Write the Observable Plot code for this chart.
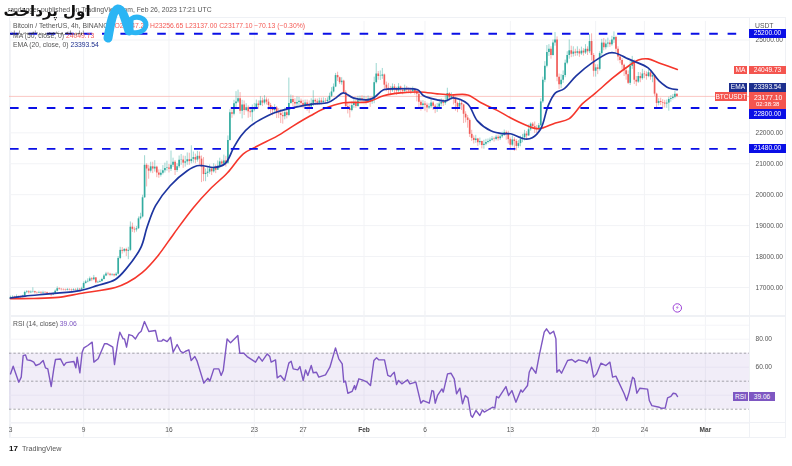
<!DOCTYPE html>
<html><head><meta charset="utf-8">
<script src="https://cdn.jsdelivr.net/npm/d3@7"></script>
<script src="https://cdn.jsdelivr.net/npm/@observablehq/plot@0.6"></script>
<style>
html,body{margin:0;padding:0;background:#fff}
#page{position:relative;width:792px;height:466px;overflow:hidden;font-family:"Liberation Sans",sans-serif;color:#555;filter:blur(.4px)}
#page svg{display:block}
.pane{position:absolute;left:0}
.t{position:absolute;white-space:nowrap;font-size:6.8px;line-height:9px}
.tag{position:absolute;color:#fff;font-size:6.6px;line-height:9px;text-align:center;white-space:nowrap}
</style></head><body><div id="page"></div>
<script>
const startClose = 16625;
const closes = [
16680,16690,16670,16700,16690,16680,
16720,16840,16860,16830,16850,16860,
16830,16820,16840,16820,16840,16830,
16800,16780,16760,16800,16880,16960,
16940,16930,16920,16910,16930,16920,
16910,16930,16920,16940,16930,16960,
17130,17180,17200,17280,17250,17310,
17150,17170,17190,17260,17370,17440,
17430,17400,17410,17380,17430,17940,
18200,18170,18230,18170,18200,18950,
18880,18860,18900,19220,19280,19900,
20950,20830,20760,20900,20830,20890,
20700,20630,20690,20770,20850,20860,
20820,20950,21050,20780,20900,21110,
21120,21020,21060,21130,21070,21140,
21200,21120,21240,21150,20900,20650,
20690,20730,20830,20740,20860,20790,
20920,21060,20990,21090,21020,21750,
22650,22600,22940,23000,23100,22700,
22900,22720,22810,22680,22650,22740,
22820,22930,22880,23030,22960,23060,
22990,22880,22760,22720,22800,22640,
22620,22560,22520,22650,22560,22950,
23080,22980,22930,22980,23020,22950,
22880,22960,22900,22840,22950,23050,
23000,22960,23030,22980,23020,23010,
23050,23180,23320,23480,23850,23780,
23620,23670,23300,22850,22780,22720,
22880,22950,22850,23040,23100,23060,
23080,23020,23090,23000,23060,23620,
23900,23820,23830,23870,23540,23440,
23390,23360,23480,23400,23350,23480,
23380,23340,23420,23380,23350,23330,
23390,23320,23250,22990,22880,22930,
22890,22800,22840,22960,22860,22780,
22830,22930,22980,22950,23030,23270,
23130,23170,23100,22950,22830,22950,
22900,22600,22480,22400,21950,21820,
21750,21800,21680,21720,21590,21630,
21690,21720,21760,21800,21780,21860,
21810,21870,21930,22010,21950,21780,
21600,21770,21720,21560,21650,21780,
21840,21960,21900,22100,22280,22200,
22150,22100,22230,23000,23700,24150,
24600,24700,24500,24900,25000,23800,
23550,23700,23850,24250,24500,24650,
24540,24610,24570,24620,24550,24640,
24580,24700,24620,24950,24500,23990,
24100,24050,24560,24900,24750,24870,
24900,24850,25000,25080,24700,24450,
24340,24180,24010,23880,23600,24150,
24300,23700,23640,23820,23750,23900,
23880,23820,23940,23800,23850,23250,
22950,23010,22980,22960,22930,22960,
23080,23110,23150,23250,23177];
const highs = [
16720,16730,16720,16760,16730,16720,
16750,16880,16900,16900,16890,16990,
16880,16860,16880,16870,16880,16870,
16850,16830,16810,16840,16920,17020,
16990,16970,16960,16950,16970,16960,
16950,16960,16960,16980,16970,17010,
17180,17230,17280,17340,17320,17390,
17320,17210,17240,17300,17420,17490,
17490,17460,17450,17440,17480,18000,
18300,18290,18260,18270,18300,19120,
19080,18950,18970,19280,19400,19980,
21260,21000,20950,21050,21050,21100,
20920,20800,20800,20940,21020,21080,
20980,21410,21180,21100,21000,21250,
21300,21250,21240,21350,21340,21580,
21380,21310,21400,21380,21250,21200,
20830,20870,20960,20880,21000,20960,
21090,21180,21120,21280,21240,21900,
22750,22750,23050,23330,23380,23300,
23050,23030,22940,22870,22790,22900,
22950,23060,23030,23170,23120,23200,
23130,23090,22950,22850,22910,22850,
22780,22750,22680,22800,22720,23770,
23220,23200,23100,23160,23150,23090,
23050,23060,23060,23030,23100,23360,
23100,23090,23120,23120,23130,23110,
23130,23280,23460,23580,23920,23960,
23800,23780,23700,23360,22940,22900,
22990,23080,23060,23180,23190,23200,
23180,23160,23190,23150,23160,23800,
24240,23980,24000,24080,23900,23640,
23600,23500,23580,23560,23470,23590,
23510,23450,23540,23500,23450,23440,
23480,23440,23360,23290,23040,23040,
23010,22960,22940,23080,23010,22920,
22950,23060,23100,23080,23200,23440,
23300,23290,23230,23150,22990,23070,
23020,22920,22680,22560,22450,22080,
21900,21920,21820,21830,21730,21760,
21790,21800,21830,21880,21860,21920,
21930,21960,22020,22090,22060,22050,
21830,21900,21840,21780,21750,21890,
21950,22080,22040,22250,22320,22330,
22350,22240,22300,23100,23800,24300,
24820,24850,24780,25000,25240,25100,
23900,23880,24000,24350,24620,25000,
24800,24780,24700,24780,24700,24770,
24720,24850,24780,25170,25200,24560,
24200,24200,24620,25020,25050,25000,
25060,24980,25120,25260,25120,24780,
24530,24400,24220,24100,24000,24300,
24470,24350,23820,23950,23940,24050,
23990,23970,24060,23990,23950,23870,
23280,23100,23120,23070,23050,23060,
23150,23200,23240,23340,23260];
const lows = [
16630,16660,16640,16660,16650,16650,
16660,16710,16800,16790,16800,16820,
16790,16780,16800,16780,16790,16800,
16770,16740,16700,16740,16790,16860,
16910,16890,16890,16880,16890,16890,
16870,16890,16890,16900,16900,16900,
16950,17110,17150,17180,17190,17220,
17120,17130,17150,17170,17240,17350,
17380,17350,17360,17340,17360,17410,
17900,18080,18120,18000,17900,18160,
18780,18760,18790,18880,19180,19250,
19880,20250,20500,20700,20680,20730,
20550,20530,20570,20640,20700,20760,
20700,20750,20880,20620,20720,20850,
20950,20850,20890,20950,20950,21000,
21020,21000,21050,20950,20390,20420,
20420,20560,20660,20620,20700,20680,
20800,20840,20880,20950,20890,20980,
21730,22470,22550,22820,22950,22600,
22450,22560,22680,22470,22500,22350,
22680,22770,22760,22870,22850,22900,
22900,22730,22620,22550,22640,22460,
22460,22300,22280,22420,22450,22520,
22920,22850,22770,22840,22880,22800,
22780,22810,22700,22620,22760,22850,
22880,22890,22900,22900,22920,22930,
22950,23010,23140,23290,23460,23660,
23560,23540,23240,22780,22610,22480,
22680,22790,22790,22830,22960,22950,
22970,22900,22950,22820,22920,22940,
23580,23700,23690,23730,23400,23330,
23230,23200,23310,23240,23210,23290,
23280,23230,23280,23270,23260,23240,
23300,23220,23000,22800,22700,22790,
22700,22650,22750,22780,22720,22620,
22660,22780,22840,22850,22890,23000,
23030,23050,22900,22700,22650,22780,
22720,22300,22320,22150,21850,21720,
21640,21660,21560,21600,21480,21470,
21580,21640,21670,21730,21700,21740,
21730,21750,21820,21880,21760,21640,
21480,21550,21400,21420,21500,21550,
21680,21740,21780,21880,22050,22110,
21980,21980,22060,22200,22950,23620,
24100,24470,24380,24480,24800,23650,
23400,23430,23600,23780,24200,24380,
24430,24450,24470,24480,24440,24500,
24480,24530,24500,24560,24320,23800,
23800,23880,24000,24480,24650,24680,
24750,24760,24800,24890,24600,24320,
24230,24030,23820,23700,23560,23530,
24050,23560,23500,23600,23620,23700,
23750,23700,23780,23700,23620,23180,
22800,22870,22880,22780,22800,22790,
22700,22990,23060,23100,23137];

const emaDays = [0,1.2,3.3,5.7,7.1,8.6,9.5,10.7,11.2,11.9,13.1,14.5,15.3,15.8,16.7,17.6,18.3,18.9,19.7,21.1,21.9,23.5,24.9,26,26.7,27.3,28.1,29.3,29.8,30.6,31.7,33.4,33.9,35,35.7,36.3,37.5,38.3,39.4,40.4,41,42.2,42.8,43.5,44.1,44.7,45.4,46.4,47.7,49.1,49.6,50.5,51.1,52.3,53.2,54,54.7];
const emaValues = [16660,16720,16800,16900,17060,17260,17610,18300,18945,19645,20290,20775,20935,20935,20880,21000,21515,21900,22225,22550,22680,22840,22935,22970,23130,23290,23130,23065,23130,23390,23420,23390,23195,23065,23030,23130,22935,22385,22065,21970,21970,21800,21840,22130,22870,23290,23420,23840,24260,24580,24580,24420,24320,24100,23680,23450,23394];
const maDays = [0,1.9,3.9,5.7,8.6,9.6,10.8,12.1,13.4,15,16.4,17.8,19.1,20.3,21.9,23.2,24.6,25.7,27.3,29.3,30.6,32,33.6,35,36.1,37.5,38.6,40,41,42.2,43.3,44.7,45.8,46.9,48,49.4,50.7,51.5,52.3,53.2,54.7];
const maValues = [16640,16645,16680,16805,17000,17160,17480,18030,18740,19580,20190,20710,21320,21580,21900,22225,22550,22775,22970,23000,23195,23290,23320,23260,23225,23225,22970,22710,22485,22260,22130,22320,22450,22935,23290,23775,24160,24355,24390,24260,24050];

const rsiDays = [0,.22,.68,.88,1.04,1.23,1.37,1.64,1.91,2.08,2.41,2.68,2.87,3.06,3.34,3.55,3.69,4.1,4.38,4.57,5.2,5.36,5.47,5.69,5.88,6.02,6.34,6.7,6.84,7.19,7.71,7.93,8.26,8.39,8.53,8.8,8.97,9.24,9.35,9.52,9.71,9.98,10.25,10.53,10.72,10.99,11.35,11.89,12.09,12.39,12.52,12.85,13.13,13.34,13.67,13.95,14.16,14.36,14.63,14.82,15.12,15.31,15.86,16.19,16.35,16.68,17.09,17.28,17.45,17.77,18.05,18.65,18.81,19.14,19.41,20.1,20.37,20.65,21.06,21.27,21.38,21.74,21.88,22.15,22.48,22.83,23.02,23.19,23.57,23.74,24.01,24.2,24.39,24.67,24.83,25.1,25.29,25.84,26.2,26.66,26.93,27.21,27.34,27.48,27.67,28.03,28.22,28.3,28.58,28.85,29.26,29.53,29.81,30.03,30.22,30.68,30.95,31.17,31.34,31.48,31.67,31.83,32.1,32.57,32.76,33.25,33.66,33.86,34.35,34.57,34.7,34.84,35.03,35.39,35.5,35.85,36.13,36.4,36.59,36.86,37.08,37.3,37.52,37.77,37.9,38.18,38.5,38.72,38.86,39.54,39.73,39.87,40.04,40.64,40.86,41.13,41.46,41.87,42,42.41,42.55,42.74,43.1,43.37,43.78,43.97,44.25,44.55,44.74,44.82,45.01,45.2,45.7,46.05,46.33,46.6,47.15,47.28,47.53,47.83,48.07,48.43,48.84,49.17,49.39,49.66,50.34,50.54,50.75,51.03,51.17,51.38,51.63,52.26,52.4,52.61,53.22,53.35,53.71,53.9,54.17,54.36,54.58,54.72];
const rsiValues = [55.2,60.7,49.3,52.9,68.3,68.8,65.2,64.8,63.6,61.2,62.4,64.8,59.5,58.8,46.2,58.8,65.5,65.9,61.2,63.3,64.1,59.5,67.2,56,70.7,73.8,75.5,77.9,63.6,66,76.7,76.7,75,74.3,61.9,77.9,85,80.2,80.2,74.3,83.3,82.6,80.2,84.3,85.7,92.6,85.5,86.2,78.6,78.6,79.8,78.3,81.4,70.7,76.2,71.4,70.2,71.4,72.4,64.8,67.6,64.3,48.6,52.1,50,58.8,58.8,54.1,57.6,80.2,77.4,82.6,70,70,67.6,63.6,67.6,64.3,69.5,67.6,63.6,65.2,52.4,54.1,50.5,62.9,64.3,58.8,58.1,60.5,50.5,58.1,54.1,61.2,56,56.4,52.9,54.5,60,73.8,66,62.4,49.3,50,41.4,42.8,46.9,44.1,51.7,51,49.3,46.9,64.8,66.7,65.2,65.2,54.1,53.3,55.2,56.4,47.6,50.5,48.1,51,48.1,49.3,34.3,36.2,34.3,43.3,42.9,34.3,39.8,44.5,42.2,55.2,55.7,51.7,41,45,33.8,39.8,38.1,25.5,24.3,29.1,25.5,29.5,27.9,31.4,30.9,39.1,38.1,46.2,39.8,43.3,35,43.8,42.2,46.9,56.4,60,55.7,68.3,85,87.4,83.8,85.7,80.2,56.4,58.1,55.7,64.8,65.5,63.6,65.2,64.1,62.9,67.2,52.9,55.2,62.9,61.2,63.6,52.9,53.6,41,36.2,42.2,52.9,51.7,41.4,45,44.3,36.2,32.6,31.4,30.7,30.9,38.1,39.1,41.4,41,39.06];

const priceTicks = [25000,22000,21000,20000,19000,18000,17000];
const levels = [25200,22800,21480];
const lastPrice = 23177.10;
const rsiTicks = [80,60];
const rsiBands = [70,50,30];
const monthDays = [0,6,13,20,24,34,41,48,52];
const monthLabels = ["3","9","16","23","27","6","13","20","24"];
const boldDays = [29,57];
const boldLabels = ["Feb","Mar"];

const T0 = Date.UTC(2023,0,3);
const at = d => new Date(T0 + d*86400000);
const xDomain = [at(-0.082), at(60.62)];
const UP="#26a69a", DOWN="#ef5350";
const candles = closes.map((c,i)=>({t:at(i/6),open:i?closes[i-1]:startClose,close:c,high:highs[i],low:lows[i],color:c>=(i?closes[i-1]:startClose)?UP:DOWN}));
const zipLine=(ds,vs)=>ds.map((d,i)=>({t:at(d),v:vs[i]}));
const ema=zipLine(emaDays,emaValues), ma=zipLine(maDays,maValues), rsi=zipLine(rsiDays,rsiValues);
const allDays=[...monthDays,...boldDays];
const tickLabel=new Map([...monthDays.map((d,i)=>[+at(d),monthLabels[i]]),...boldDays.map((d,i)=>[+at(d),boldLabels[i]])]);
const common={width:792,marginLeft:9,marginRight:43,marginTop:0,marginBottom:0,style:{background:"transparent",fontFamily:"'Liberation Sans',sans-serif",fontSize:"6.6px",overflow:"visible"}};

const main=Plot.plot({...common,height:316,
  x:{type:"utc",domain:xDomain,axis:null},
  y:{domain:[17000,25000],range:[287,39.5],axis:null},
  marks:[
    Plot.ruleY(priceTicks,{stroke:"#f2f3f6",strokeWidth:1}),
    Plot.ruleX(allDays.map(at),{y1:17000-900,y2:25200+400,stroke:"#f2f3f6",strokeWidth:1}),
    Plot.ruleY([lastPrice],{stroke:"#f9b9b5",strokeWidth:.8}),
    Plot.ruleX(candles,{x:"t",y1:"low",y2:"high",stroke:"color",strokeWidth:1,strokeOpacity:.45}),
    Plot.ruleX(candles,{x:"t",y1:"open",y2:"close",stroke:"color",strokeWidth:1.7,strokeOpacity:.9}),
    Plot.lineY(ma,{x:"t",y:"v",stroke:"#f5362b",strokeWidth:1.6,curve:"catmull-rom"}),
    Plot.lineY(ema,{x:"t",y:"v",stroke:"#1d35a0",strokeWidth:1.7,curve:"catmull-rom"}),
    Plot.ruleY(levels,{x1:at(0),x2:at(59.85),stroke:"#0a0fe6",strokeWidth:1.9,strokeDasharray:"8.6 9.8"}),
    Plot.axisY(priceTicks,{anchor:"right",tickSize:0,tickPadding:6,label:null,color:"#555",tickFormat:d=>d.toFixed(2)}),
    Plot.dot([0],{x:()=>at(54.7),y:()=>16340,r:4.2,fill:"#fff",stroke:"#9b3fd6",strokeWidth:1}),
    Plot.text(["⚡"],{x:()=>at(54.7),y:()=>16340,fill:"#9b3fd6",fontSize:6.5,fontFamily:"DejaVu Sans"})
  ]});

const rsiPlot=Plot.plot({...common,height:122,marginBottom:16,
  x:{type:"utc",domain:xDomain,axis:null},
  y:{domain:[30,70],range:[92.7,36.7],axis:null},
  marks:[
    Plot.ruleX(allDays.map(at),{y1:100,y2:9,stroke:"#f2f3f6",strokeWidth:1}),
    Plot.ruleY([40,60,80,20,90],{stroke:"#f4f4f8",strokeWidth:1}),
    Plot.areaY([{t:xDomain[0]},{t:xDomain[1]}],{x:"t",y1:30,y2:70,fill:"#7e57c2",fillOpacity:.11}),
    Plot.ruleY(rsiBands,{stroke:"#8f8f95",strokeWidth:.8,strokeDasharray:"2.4 2"}),
    Plot.lineY(rsi,{x:"t",y:"v",stroke:"#7e57c2",strokeWidth:1.4}),
    Plot.axisY(rsiTicks,{anchor:"right",tickSize:0,tickPadding:6,label:null,color:"#555",tickFormat:d=>d.toFixed(2)}),
    Plot.axisX(monthDays.map(at),{anchor:"bottom",tickSize:0,tickPadding:5,label:null,color:"#555",tickFormat:d=>tickLabel.get(+d)}),
    Plot.axisX(boldDays.map(at),{anchor:"bottom",tickSize:0,tickPadding:5,label:null,color:"#444",fontWeight:"bold",tickFormat:d=>tickLabel.get(+d)})
  ]});

const page=document.getElementById("page");
const frame=(l,t,w,h,css)=>{const e=document.createElement("div");e.style.cssText=`position:absolute;left:${l}px;top:${t}px;width:${w}px;height:${h}px;${css}`;page.append(e);};
frame(9,17,777,421,"border:1px solid #eff1f5;box-sizing:border-box");
frame(9,315,777,2,"background:#eff1f5");
frame(9,422,777,1,"background:#eff1f5");
frame(749,17,1,421,"background:#eff1f5");
main.classList.add("pane");main.style.top="0px";page.append(main);
rsiPlot.classList.add("pane");rsiPlot.style.top="316px";page.append(rsiPlot);

const text=(l,t,html,css="")=>{const e=document.createElement("div");e.className="t";e.style.cssText=`left:${l}px;top:${t}px;${css}`;e.innerHTML=html;page.append(e);};
const tag=(l,t,w,h,bg,s,css="")=>{const e=document.createElement("div");e.className="tag";e.style.cssText=`left:${l}px;top:${t}px;width:${w}px;height:${h}px;background:${bg};line-height:${h}px;${css}`;e.textContent=s;page.append(e);};
const R="#f4554f",N="#1d2f8e",B="#0a0fe6",P="#7e57c2",RED="#f45a55";
text(8,5,'randagger published on TradingView.com, Feb 26, 2023 17:21 UTC');
text(13,21,`Bitcoin / TetherUS, 4h, BINANCE <span style="color:${RED}">O23247.23 H23256.65 L23137.00 C23177.10 −70.13 (−0.30%)</span>`);
text(13,31,`MA (50, close, 0) <span style="color:${RED}">24049.73</span>`);
text(13,40,`EMA (20, close, 0) <span style="color:${N}">23393.54</span>`);
text(13,319,`RSI (14, close) <span style="color:${P}">39.06</span>`);
text(755,21,'USDT');
tag(749,29,37,8.5,B,"25200.00");
tag(734,65.5,13,8.5,R,"MA");tag(749,65.5,37,8.5,R,"24049.73");
tag(729,83,18,8.5,N,"EMA");tag(749,83,37,8.5,N,"23393.54");
tag(715,92,32,9,R,"BTCUSDT");
tag(749,92,37,17,R,"");
text(754,92.5,'23177.10','color:#fff');text(756,100,'02:38:38','color:#fff;font-size:6px');
tag(749,109,37,10,B,"22800.00");
tag(749,144,37,8.5,B,"21480.00");
tag(733,392,15,9,P,"RSI");tag(749,392,26,9,P,"39.06");
text(22,444,'TradingView','font-size:7.2px;color:#555');
text(9,443.5,'17','font-size:8px;font-weight:bold;color:#111');

// watermark over the chart
const ns="http://www.w3.org/2000/svg";
const logo=document.createElementNS(ns,"svg");
logo.setAttribute("width","160");logo.setAttribute("height","50");
logo.setAttribute("style","position:absolute;left:0;top:0");
logo.innerHTML=`<path d="M108 38 C110 26 113 10 118 9 C123 9 126 22 129 31" fill="none" stroke="#2bb5f4" stroke-width="9" stroke-linecap="round"/>
<path d="M131 32 L131 19 C137 15 146 18 146 25 C145 32 137 34 131 32Z" fill="none" stroke="#2bb5f4" stroke-width="5"/>`;
page.append(logo);
text(2,-1,'اول پرداخت','font-family:"DejaVu Sans";font-weight:bold;font-size:15px;line-height:24px;color:#111;direction:rtl;width:90px;text-align:center');
text(3,30,'اولین پلتفرم تخصصی پرداخت در ایران','font-family:"DejaVu Sans";font-size:4.6px;line-height:6px;color:#111;direction:rtl;width:88px;text-align:center');
</script></body></html>
